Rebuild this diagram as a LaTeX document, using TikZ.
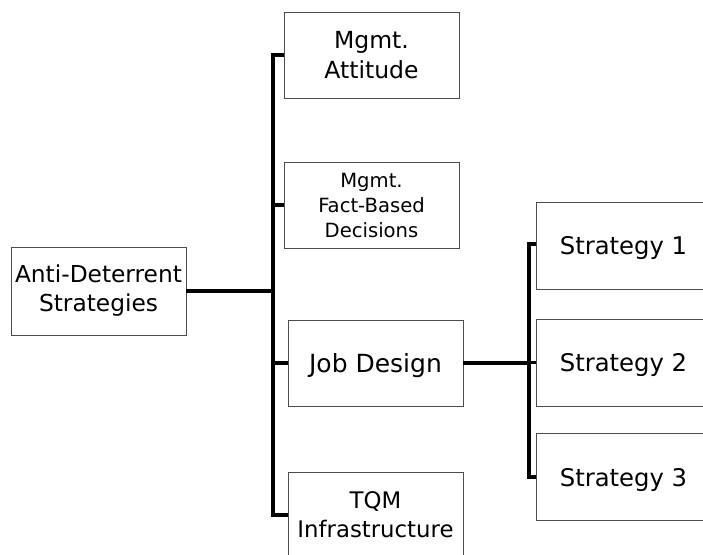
\documentclass[tikz,border=0pt]{standalone}
\usepackage{fontspec}
\setmainfont{DejaVu Sans}
\begin{document}
\begin{tikzpicture}[x=1pt,y=-1pt,
  box/.style={draw=black!70,line width=0.9pt,fill=white,minimum width=175pt,
    minimum height=86pt,inner sep=0pt,align=center},
  oneline/.style={box,text depth=0pt,font=\fontsize{24.3}{29}\selectfont},
  conn/.style={draw=black,line width=3.2pt}]
\clip (0,0) rectangle (703,554);
\fill[white] (0,0) rectangle (703,554);
% root and first level
\node[box,minimum height=88pt,font=\fontsize{23.3}{29}\selectfont] (root) at (98.5,291) {Anti-Deterrent\\Strategies};
\node[box,font=\fontsize{23.5}{30}\selectfont] (att) at (371.5,55) {Mgmt.\\Attitude};
\node[box,font=\fontsize{19.6}{25}\selectfont] (fact) at (371.5,205) {Mgmt.\\Fact-Based\\Decisions};
\node[oneline,font=\fontsize{25}{30}\selectfont] (job) at (375.5,363) {Job Design};
\node[box,font=\fontsize{22.8}{29}\selectfont] (tqm) at (375.5,515) {TQM\\Infrastructure};
% second level under Job Design
\node[oneline,minimum height=87pt] (s1) at (623.5,245.5) {Strategy 1};
\node[oneline,minimum height=87pt] (s2) at (623.5,362.5) {Strategy 2};
\node[oneline,minimum height=87pt] (s3) at (623.5,477) {Strategy 3};
% trunks
\coordinate (trunk) at (273,0);
\coordinate (subtrunk) at (529,0);
\draw[conn] (root.east) -- (root.east -| trunk);
\draw[conn] (att.west) -| (tqm.west -| trunk) -- (tqm.west);
\draw[conn] (fact.west) -- (fact.west -| trunk);
\draw[conn] (job.west) -- (job.west -| trunk);
\draw[conn] (job.east) -- (job.east -| subtrunk);
\draw[conn] ([yshift=1.5pt]s1.west) -| (s3.west -| subtrunk) -- (s3.west);
\draw[conn] (s2.west) -- (s2.west -| subtrunk);
\end{tikzpicture}
\end{document}
